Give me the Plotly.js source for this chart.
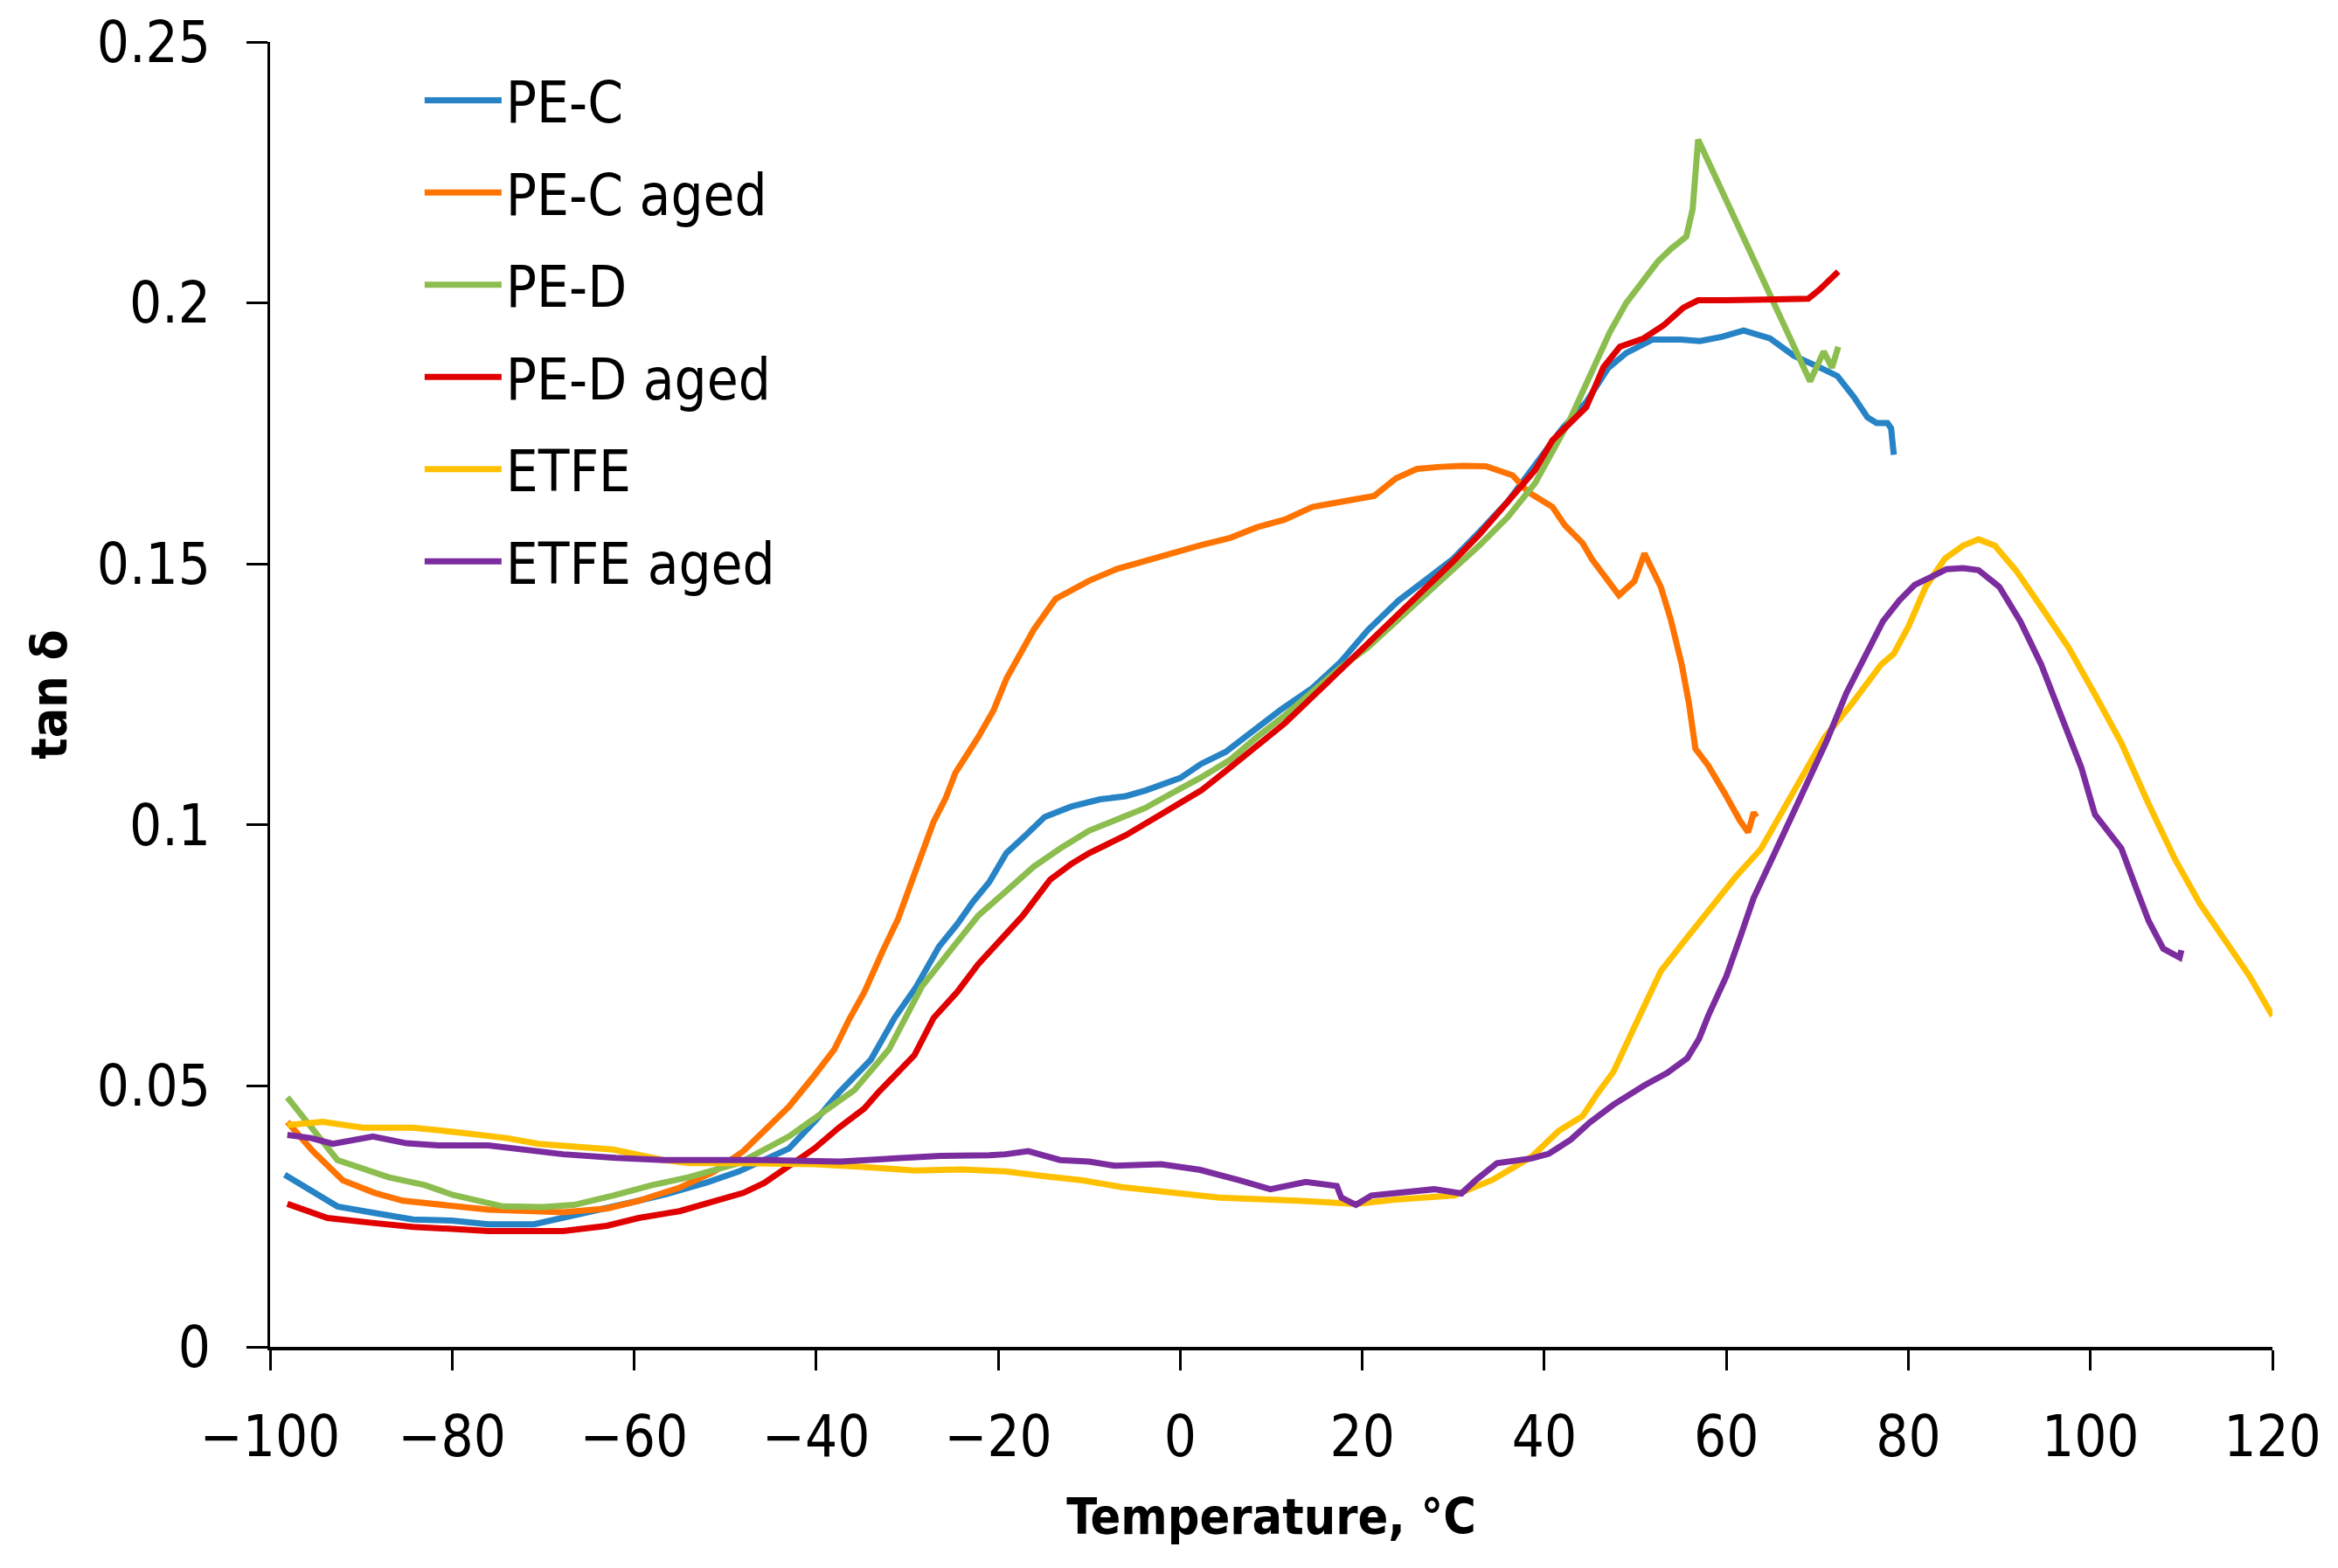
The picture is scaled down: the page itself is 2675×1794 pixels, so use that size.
<!DOCTYPE html>
<html>
<head>
<meta charset="utf-8">
<script src="https://cdn.plot.ly/plotly-3.0.1.min.js"></script>
<style>
  html, body { margin: 0; padding: 0; background: #ffffff; }
  #chart { width: 2675px; height: 1794px; }
</style>
</head>
<body>
<div id="chart"></div>
<script>
// ---- Data (temperature in °C, tan δ) ----
const seriesNames = ["PE-C", "PE-C aged", "PE-D", "PE-D aged", "ETFE", "ETFE aged"];
const seriesColors = ["#2683C6", "#FF7300", "#8CBD4F", "#E00000", "#FFC000", "#7B2C9E"];

const peC_T = [-98.4,-95,-92.6,-88,-84.3,-80,-76,-71,-65,-60,-56.8,-52,-48.5,-45,-43,-40,-37.5,-34,-31.4,-29,-26.5,-24.5,-22.8,-21,-19.1,-17,-14.9,-12,-8.8,-6,-3.8,0,2.3,5,8.4,11,14.5,17.5,20.6,24,26.8,30,32.9,36,39,42,44.6,47,49,51.9,55,57.1,59.5,61.9,64.8,67.4,70.3,72.2,74,75.5,76.5,77.7,78.1,78.4];
const peC_V = [0.033,0.0295,0.0269,0.0255,0.0244,0.0242,0.0235,0.0235,0.026,0.0278,0.0291,0.0315,0.0336,0.0362,0.038,0.0435,0.0487,0.055,0.063,0.069,0.0767,0.081,0.0852,0.089,0.0946,0.098,0.1015,0.1035,0.1049,0.1055,0.1066,0.109,0.1117,0.114,0.1185,0.122,0.1262,0.131,0.1373,0.143,0.1467,0.151,0.1562,0.162,0.169,0.176,0.181,0.1875,0.1904,0.193,0.193,0.1927,0.1935,0.1947,0.1932,0.1899,0.1876,0.186,0.182,0.1781,0.177,0.177,0.176,0.1709];

const peCaged_T = [-98.1,-95.3,-92,-88.5,-85.4,-80,-76,-71,-67.8,-63,-59.5,-55,-51.2,-48,-45.7,-43,-40.2,-38,-36.3,-34.7,-32.7,-31,-29.6,-28.3,-27.1,-25.8,-24.7,-22.2,-20.5,-19.1,-17.5,-16.1,-13.7,-10,-7,-3.9,-1,2.3,5.5,8.4,11.5,14.5,18,21.3,23.7,26,28.6,31,33.6,36.5,38.2,40.9,42.3,44.2,45.2,47.5,48.2,49.9,51,52.8,53.9,55.1,55.9,56.6,58,59.8,61.5,62.4,63,63.3];
const peCaged_V = [0.0431,0.0375,0.0319,0.0295,0.028,0.027,0.0263,0.026,0.0258,0.0265,0.028,0.0305,0.0336,0.0375,0.0414,0.046,0.052,0.057,0.063,0.068,0.0758,0.082,0.0887,0.095,0.1006,0.105,0.11,0.1168,0.122,0.128,0.133,0.1374,0.1433,0.1468,0.149,0.1506,0.152,0.1536,0.155,0.157,0.1585,0.1609,0.162,0.163,0.1664,0.1682,0.1686,0.1688,0.1687,0.167,0.1638,0.1609,0.1573,0.154,0.151,0.1456,0.144,0.1467,0.152,0.1456,0.1393,0.1307,0.1232,0.1146,0.1114,0.1061,0.1008,0.0986,0.1024,0.1015];

const peD_T = [-98.1,-95.5,-92.6,-87,-83,-79.9,-74.4,-70,-66.6,-62.3,-58,-54,-48.5,-43,-40,-35.8,-32,-28.4,-25,-22.2,-19,-16.1,-13,-10,-7,-3.9,-1,2.3,5.5,8.4,11.5,14.5,17.5,20.6,23.7,26.8,30,32.9,36,39,42.8,45,47.2,49,50.9,52.5,54,55.6,56.3,56.9,69.2,70.7,71.6,72.3];
const peD_V = [0.0478,0.042,0.0358,0.0325,0.031,0.0291,0.0269,0.0268,0.0272,0.029,0.031,0.0325,0.0352,0.0403,0.044,0.0492,0.057,0.069,0.0765,0.0826,0.0875,0.092,0.0957,0.0989,0.101,0.1032,0.106,0.1091,0.1125,0.1168,0.121,0.1256,0.13,0.134,0.139,0.1442,0.149,0.1536,0.159,0.1655,0.1776,0.186,0.1944,0.2,0.2044,0.208,0.2105,0.2127,0.218,0.2313,0.185,0.1907,0.1876,0.1916];

const peDaged_T = [-98.1,-93.7,-89,-84.3,-80,-76,-72,-67.8,-63,-59.5,-55,-51.2,-48,-45.7,-43,-40.2,-37.5,-34.7,-33.2,-29.2,-27.1,-24.5,-22.2,-20,-17.3,-14.3,-12,-10,-6,-2.6,2.3,5.5,8.4,11.5,14.5,17.5,20.6,23.7,26.8,30,32.9,36,39,40.9,42.8,44.6,46.5,48.3,50.9,53.1,55.3,56.9,60,63,66,69,70.2,72.3];
const peDaged_V = [0.0274,0.0247,0.0238,0.023,0.0226,0.0222,0.0222,0.0222,0.0232,0.0247,0.026,0.028,0.0295,0.0314,0.0345,0.038,0.042,0.0457,0.0487,0.0559,0.063,0.068,0.0733,0.0775,0.0826,0.0895,0.0925,0.0946,0.098,0.1015,0.1066,0.111,0.1151,0.1195,0.1245,0.1295,0.1348,0.14,0.145,0.1505,0.1557,0.162,0.168,0.1737,0.177,0.18,0.1877,0.1916,0.1932,0.1957,0.1991,0.2005,0.2005,0.2006,0.2007,0.2008,0.2025,0.206];

const etfe_T = [-98.1,-94.2,-89.8,-84.3,-78.8,-74,-70.5,-66,-62.3,-56.8,-54,-48.5,-40.2,-35,-29.2,-24,-19.2,-14.9,-10.7,-6.4,-2.1,4.3,12.9,19.3,23.6,30.1,34.3,38.6,41.6,44.2,45.9,47.6,49.9,52.8,55.5,58.6,61,63.8,66,68.5,70.8,73.7,77,78.4,80,81.9,84,86,87.7,89.5,91.8,94.5,97.6,100.5,103.4,106.4,109.3,112,115,117.5,120];
const etfe_V = [0.0425,0.0431,0.042,0.042,0.041,0.04,0.0389,0.0383,0.0378,0.0358,0.0352,0.0352,0.035,0.0345,0.0338,0.034,0.0336,0.0327,0.0319,0.0306,0.0297,0.0286,0.028,0.0274,0.0282,0.029,0.032,0.0364,0.0414,0.0442,0.0487,0.0527,0.0613,0.072,0.078,0.0848,0.09,0.0954,0.102,0.11,0.1168,0.123,0.1307,0.1328,0.138,0.1456,0.151,0.1535,0.1547,0.1535,0.1488,0.142,0.134,0.125,0.1157,0.104,0.0934,0.085,0.0773,0.071,0.0634];

const etfeAged_T = [-98.1,-95.5,-93.1,-88.7,-85,-81.5,-76,-72,-67.8,-62,-56.8,-50,-45.7,-37.4,-32,-26.4,-21,-19.2,-16.7,-13.2,-10,-7.2,-2.1,2.2,6.5,9.9,13.8,17.2,17.7,19.3,21,23.6,27.9,30.9,32.5,34.8,38.6,40.5,42.9,45,47.6,51,53.5,55.7,57,58,60,61.5,63,64.4,66.5,68.5,71,73.2,75.2,77.2,79,80.7,82.5,84.2,86,87.7,90,92.3,94.6,97.6,99,100.5,103.4,105,106.4,108,109.8,110];
const etfeAged_V = [0.0406,0.04,0.0389,0.0403,0.039,0.0386,0.0386,0.0378,0.0369,0.0362,0.0358,0.0358,0.0358,0.0355,0.036,0.0366,0.0367,0.0369,0.0375,0.0358,0.0355,0.0347,0.035,0.0339,0.0319,0.0302,0.0316,0.0308,0.0286,0.0272,0.029,0.0294,0.0302,0.0294,0.032,0.0352,0.0361,0.037,0.0397,0.043,0.0464,0.0501,0.0525,0.0553,0.059,0.0634,0.071,0.0784,0.086,0.0912,0.099,0.1061,0.116,0.1253,0.132,0.139,0.143,0.146,0.1475,0.149,0.1492,0.1488,0.1456,0.139,0.1307,0.1178,0.111,0.102,0.0955,0.088,0.0816,0.0763,0.0746,0.076];

const xTicks = [-100,-80,-60,-40,-20,0,20,40,60,80,100,120];
const yTicks = [0,0.05,0.1,0.15,0.2,0.25];

// ---- Build traces ----
const xs = [peC_T, peCaged_T, peD_T, peDaged_T, etfe_T, etfeAged_T];
const ys = [peC_V, peCaged_V, peD_V, peDaged_V, etfe_V, etfeAged_V];
const FONT = "'DejaVu Sans Condensed', 'Liberation Sans Narrow', 'DejaVu Sans', sans-serif";

const traces = seriesNames.map((name, i) => ({
  type: "scatter",
  mode: "lines",
  name: name,
  legendgroup: "g" + i,
  x: xs[i],
  y: ys[i],
  line: { color: seriesColors[i], width: 7, shape: "linear" }
}));

const layout = {
  width: 2675,
  height: 1794,
  paper_bgcolor: "#ffffff",
  plot_bgcolor: "#ffffff",
  margin: { l: 309, r: 75, t: 48, b: 253 },
  font: { family: FONT, size: 65, color: "#000000" },
  showlegend: true,
  legend: {
    x: 0.075, y: 0.988, xanchor: "left", yanchor: "top",
    bgcolor: "rgba(0,0,0,0)",
    font: { family: FONT, size: 65, color: "#000000" },
    itemwidth: 88,
    tracegroupgap: 18,
    traceorder: "grouped"
  },
  xaxis: {
    range: [-100, 120],
    tickmode: "array",
    tickvals: xTicks,
    ticktext: xTicks.map(v => (v < 0 ? "\u2212" + Math.abs(v) : String(v))),
    showline: true, linecolor: "#000000", linewidth: 4,
    ticks: "outside", ticklen: 23, tickwidth: 3, tickcolor: "#000000",
    showgrid: false, zeroline: false,
    ticklabelstandoff: 20,
    tickfont: { family: FONT, size: 65, color: "#000000" },
    title: { text: "<b>Temperature, °C</b>", font: { family: FONT, size: 57, color: "#000000" }, standoff: 36 }
  },
  yaxis: {
    range: [0, 0.25],
    tickmode: "array",
    tickvals: yTicks,
    ticktext: yTicks.map(v => String(v)),
    showline: true, linecolor: "#000000", linewidth: 3,
    ticks: "outside", ticklen: 24, tickwidth: 3, tickcolor: "#000000",
    showgrid: false, zeroline: false,
    ticklabelstandoff: 28,
    tickfont: { family: FONT, size: 65, color: "#000000" },
    title: { text: "<b>tan δ</b>", font: { family: FONT, size: 57, color: "#000000" }, standoff: 16 }
  }
};

Plotly.newPlot("chart", traces, layout, { displayModeBar: false, staticPlot: true });
</script>
</body>
</html>
